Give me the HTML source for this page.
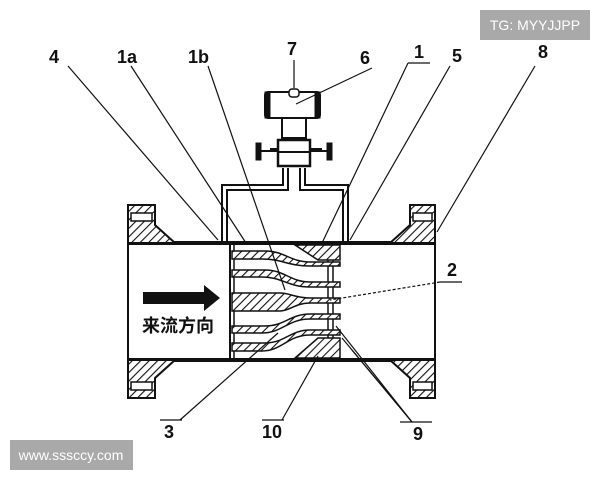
<!DOCTYPE html>
<html><head><meta charset="utf-8"><style>
html,body{margin:0;padding:0;background:#fff;width:600px;height:480px;overflow:hidden}
svg{display:block}
.l{font-family:"Liberation Sans",sans-serif;font-size:18px;font-weight:bold;fill:#111}
</style></head><body>
<svg width="600" height="480" viewBox="0 0 600 480" xmlns="http://www.w3.org/2000/svg">
<defs>
<pattern id="h" width="6" height="6" patternUnits="userSpaceOnUse" patternTransform="rotate(45)">
<rect width="6" height="6" fill="#fff"/><line x1="0" y1="0" x2="0" y2="6" stroke="#111" stroke-width="2.2"/>
</pattern>
</defs>
<g stroke="#111" fill="none">
<line x1="128" y1="243" x2="435" y2="243" stroke-width="4"/>
<line x1="128" y1="360" x2="435" y2="360" stroke-width="4"/>
<path d="M128 205 H155 V225 L175 243 H128 Z" fill="url(#h)" stroke-width="2"/>
<path d="M128 398 H155 V378 L175 360 H128 Z" fill="url(#h)" stroke-width="2"/>
<line x1="128" y1="243" x2="128" y2="360" stroke-width="2"/>
<rect x="131" y="213" width="21" height="8" fill="#fff" stroke-width="1.5"/>
<rect x="131" y="382" width="21" height="8" fill="#fff" stroke-width="1.5"/>
<path d="M435 205 H410 V225 L390 243 H435 Z" fill="url(#h)" stroke-width="2"/>
<path d="M435 398 H410 V378 L390 360 H435 Z" fill="url(#h)" stroke-width="2"/>
<line x1="435" y1="243" x2="435" y2="360" stroke-width="2"/>
<rect x="413" y="213" width="19" height="8" fill="#fff" stroke-width="1.5"/>
<rect x="413" y="382" width="19" height="8" fill="#fff" stroke-width="1.5"/>
<path d="M222 243 V185 H283 V168" stroke-width="2"/>
<path d="M227 243 V190 H288 V168" stroke-width="2"/>
<path d="M348 243 V185 H305 V168" stroke-width="2"/>
<path d="M343 243 V190 H300 V168" stroke-width="2"/>
<rect x="265" y="92" width="55" height="26" rx="3" stroke-width="2"/>
<rect x="265" y="92" width="5" height="26" fill="#111"/>
<rect x="315" y="92" width="5" height="26" fill="#111"/>
<rect x="289" y="89" width="10" height="8" rx="3" fill="#fff" stroke-width="1.5"/>
<rect x="282" y="118" width="24" height="20" stroke-width="2"/>
<rect x="278" y="140" width="32" height="26" stroke-width="2.5"/>
<line x1="278" y1="152" x2="310" y2="152" stroke-width="2"/>
<path d="M270 150 H278 M310 150 H322" stroke-width="4"/>
<rect x="256" y="143" width="5" height="17" fill="#111"/>
<rect x="327" y="143" width="5" height="17" fill="#111"/>
<line x1="261" y1="151" x2="270" y2="151" stroke-width="2"/>
<line x1="322" y1="151" x2="327" y2="151" stroke-width="2"/>
<line x1="230" y1="245" x2="230" y2="358" stroke-width="2"/>
<line x1="234" y1="245" x2="234" y2="358" stroke-width="1.5"/>
<line x1="328" y1="245" x2="328" y2="358" stroke-width="1.5"/>
<line x1="333" y1="245" x2="333" y2="358" stroke-width="1.5"/>
<path d="M232 251 H265 C285 251 290 262 310 262 H340 V266 H310 C288 266 282 259 262 259 H232 Z" fill="url(#h)" stroke-width="1.5"/>
<path d="M295 245 H340 V260 H318 Z" fill="url(#h)" stroke-width="1.5"/>
<path d="M232 270 H265 C285 270 290 282 310 282 H340 V287 H310 C288 287 282 277 262 277 H232 Z" fill="url(#h)" stroke-width="1.5"/>
<path d="M232 293 H280 C290 293 295 298 310 298 H340 V303 H310 C295 303 290 311 280 311 H232 Z" fill="url(#h)" stroke-width="1.5"/>
<path d="M232 326 H265 C285 326 290 314 310 314 H340 V319 H310 C288 319 282 333 262 333 H232 Z" fill="url(#h)" stroke-width="1.5"/>
<path d="M232 343 H265 C285 343 290 330 310 330 H340 V335 H310 C288 335 282 351 262 351 H232 Z" fill="url(#h)" stroke-width="1.5"/>
<path d="M295 358 H340 V338 H318 Z" fill="url(#h)" stroke-width="1.5"/>
<g stroke-width="1.2">
<line x1="68" y1="66" x2="218" y2="240"/>
<line x1="131" y1="66" x2="246" y2="243"/>
<line x1="208" y1="66" x2="285" y2="290"/>
<line x1="294" y1="60" x2="294" y2="88"/>
<line x1="372" y1="68" x2="296" y2="104"/>
<line x1="408" y1="63" x2="430" y2="63"/>
<line x1="408" y1="63" x2="322" y2="243"/>
<line x1="450" y1="66" x2="350" y2="240"/>
<line x1="535" y1="66" x2="437" y2="232"/>
<line x1="440" y1="282" x2="462" y2="282"/>
<line x1="440" y1="282" x2="330" y2="300" stroke-dasharray="3 2"/>
<line x1="180" y1="420" x2="278" y2="333"/>
<line x1="282" y1="420" x2="318" y2="356"/>
<line x1="412" y1="422" x2="336" y2="326"/>
<line x1="412" y1="422" x2="342" y2="338"/>
<line x1="412" y1="422" x2="352" y2="350"/>
<line x1="160" y1="420" x2="182" y2="420"/>
<line x1="262" y1="420" x2="284" y2="420"/>
<line x1="400" y1="422" x2="432" y2="422"/>
</g>
</g>
<path d="M143 292 H204 V285 L220 298 L204 311 V304 H143 Z" fill="#111"/>
<text x="142" y="332" font-family="'Noto Sans CJK SC',sans-serif" font-size="18" font-weight="bold" fill="#111">来流方向</text>
<g>
<text x="49" y="63" class="l">4</text>
<text x="117" y="63" class="l">1a</text>
<text x="188" y="63" class="l">1b</text>
<text x="287" y="55" class="l">7</text>
<text x="360" y="64" class="l">6</text>
<text x="414" y="58" class="l">1</text>
<text x="452" y="62" class="l">5</text>
<text x="538" y="58" class="l">8</text>
<text x="447" y="276" class="l">2</text>
<text x="164" y="438" class="l">3</text>
<text x="262" y="438" class="l">10</text>
<text x="413" y="440" class="l">9</text>
</g>
<rect x="480" y="10" width="110" height="30" fill="#a9a9a9"/>
<text x="535" y="30" text-anchor="middle" font-family="'Liberation Sans',sans-serif" font-size="14" fill="#fff">TG: MYYJJPP</text>
<rect x="10" y="440" width="123" height="30" fill="#a9a9a9"/>
<text x="71" y="460" text-anchor="middle" font-family="'Liberation Sans',sans-serif" font-size="14" fill="#fff">www.sssccy.com</text>
</svg>
</body></html>
